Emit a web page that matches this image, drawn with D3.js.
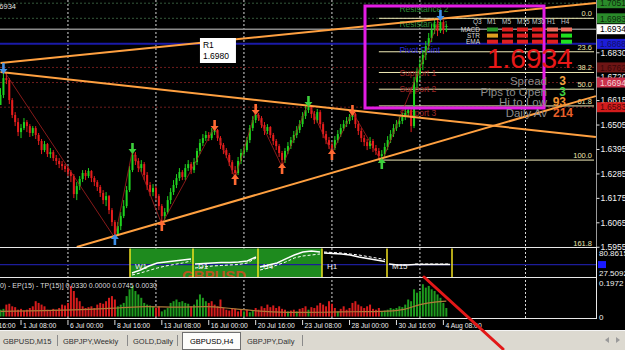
<!DOCTYPE html>
<html>
<head>
<meta charset="utf-8">
<title>GBPUSD,H4</title>
<script src="https://cdn.jsdelivr.net/npm/d3@7/dist/d3.min.js"></script>
<style>
  body { margin: 0; background: #000; overflow: hidden; }
  svg { display: block; font-family: "Liberation Sans", Arial, sans-serif; }
</style>
</head>
<body>
<svg id="chart" width="625" height="350"></svg>
<script>
"use strict";

// ---- price data, in pips above 1.0000 (6934 = 1.6934), one entry per H4 bar ----
const firstOpen = 6593;
const barClose = [
  6638,6714,6705,6615,6548,6516,6471,6489,6516,6498,
  6467,6489,6458,6431,6390,6417,6372,6381,6354,6341,
  6327,6318,6305,6291,6273,6192,6228,6260,6287,6273,
  6296,6264,6246,6224,6197,6165,6183,6120,6066,6012,
  6048,6093,6138,6210,6300,6368,6341,6309,6327,6278,
  6233,6201,6219,6183,6138,6093,6111,6165,6201,6233,
  6264,6291,6269,6309,6327,6300,6336,6386,6422,6444,
  6458,6444,6471,6480,6444,6413,6390,6368,6336,6300,
  6287,6341,6377,6390,6435,6489,6525,6548,6534,6503,
  6476,6494,6458,6431,6408,6377,6345,6386,6408,6435,
  6458,6480,6507,6543,6570,6584,6552,6525,6561,6507,
  6462,6435,6413,6399,6435,6462,6489,6507,6521,6539,
  6552,6507,6476,6444,6426,6408,6431,6399,6386,6363,
  6372,6404,6435,6462,6489,6507,6521,6539,6557,6570,
  6498,6696,6732,6777,6818,6858,6894,6930,6957,6926,
  6966,6930,6934];
const barHigh = [
  6669,6750,6741,6714,6624,6561,6534,6507,6534,6525,
  6507,6498,6498,6467,6440,6431,6422,6399,6390,6368,
  6354,6341,6327,6318,6300,6282,6246,6273,6300,6300,
  6309,6300,6273,6255,6233,6210,6201,6188,6129,6075,
  6066,6111,6165,6228,6318,6390,6381,6354,6345,6336,
  6291,6246,6237,6228,6192,6147,6129,6183,6219,6255,
  6282,6309,6300,6327,6345,6336,6354,6399,6440,6462,
  6476,6471,6489,6494,6485,6453,6422,6399,6377,6345,
  6318,6359,6395,6408,6449,6503,6543,6566,6557,6543,
  6516,6507,6498,6467,6440,6417,6386,6399,6426,6449,
  6476,6498,6525,6561,6588,6602,6593,6566,6575,6570,
  6516,6476,6449,6426,6453,6480,6507,6525,6539,6552,
  6561,6557,6521,6489,6458,6440,6449,6440,6413,6399,
  6390,6422,6453,6480,6507,6525,6539,6557,6575,6588,
  6579,6719,6759,6804,6840,6881,6917,6957,6984,6980,
  6989,6975,6957];
const barLow = [
  6593,6624,6687,6597,6534,6498,6453,6444,6480,6471,
  6449,6453,6440,6413,6372,6381,6359,6354,6341,6323,
  6309,6300,6291,6273,6246,6174,6165,6210,6246,6255,
  6264,6246,6228,6206,6179,6147,6138,6102,6048,5994,
  6003,6030,6084,6129,6201,6291,6323,6291,6291,6255,
  6210,6183,6183,6165,6120,6057,6075,6102,6147,6188,
  6219,6251,6255,6255,6296,6282,6287,6323,6372,6408,
  6431,6431,6435,6458,6431,6395,6372,6354,6318,6282,
  6264,6278,6327,6363,6381,6422,6476,6512,6521,6489,
  6458,6462,6444,6413,6390,6359,6314,6332,6372,6395,
  6422,6444,6467,6494,6530,6557,6534,6507,6512,6489,
  6444,6417,6395,6377,6390,6422,6449,6476,6494,6507,
  6525,6489,6458,6426,6408,6390,6395,6381,6368,6345,
  6336,6354,6390,6422,6449,6476,6494,6507,6525,6543,
  6471,6489,6669,6705,6750,6795,6840,6876,6912,6903,
  6917,6912,6921];

// zigzag swing points (alternating high / low) and their arrow colours
const zigzagBars = [1, 39, 45, 55, 73, 80, 87, 96, 105, 113, 120, 130, 150];
const zigzagColors = ["#4a90e0", "#3d8fe8", "#3ccf3c", "#ff6a33", "#ff6a33", "#ff6a33", "#ff6a33",
  "#ff6a33", "#3ccf3c", "#ff6a33", "#ff6a33", "#3ccf3c", "#3d8fe8"];

// trend lines as [bar, pips] end points
const trendUpper = [[0, 6782], [203, 7052]];
const trendFalling = [[0, 6741], [203, 6449]];
const trendRising = [[26, 5954], [203, 6633]];

// daily pivots
const pivotNames = ["Resistance 2", "Resistance 1", "Pivot Point", "Support 1", "Support 2", "Support 3"];
const pivotKinds = ["R", "R", "P", "S", "S", "S"];
const pivotPrices = [1.7051, 1.6983, 1.6868, 1.6762, 1.6694, 1.6583];
const bidPrice = 1.6934;

// fibonacci retracement
const fibLevels = [0, 23.6, 38.2, 50, 61.8, 100, 161.8];
const fibHigh = 1.6983;
const fibLow = 1.6345;
const fibStartBar = 129;

// price axis
const priceTicks = [1.6830, 1.6720, 1.6615, 1.6505, 1.6395, 1.6285, 1.6175, 1.6065, 1.5955];
const markerPrices = [1.7051, 1.6983, 1.6934, 1.6868, 1.6762, 1.6694, 1.6583];
const markerFills = ["#2a8a2a", "#2a8a2a", "#ffffff", "#1d1dd8", "#6e1515", "#c8304a", "#d41c1c"];
const markerInk = ["#0c2a0c", "#0c2a0c", "#000000", "#10106a", "#3a0808", "#f4d0d8", "#4a0808"];

// time axis
const timeLabels = ["26 Jun 16:00", "1 Jul 08:00", "6 Jul 00:00", "8 Jul 16:00", "13 Jul 08:00",
  "16 Jul 00:00", "20 Jul 16:00", "23 Jul 08:00", "28 Jul 00:00", "30 Jul 16:00", "4 Aug 08:00"];
const timeLabelBars = [-9, 7, 23, 39, 55, 71, 87, 103, 119, 135, 151];
const gridBars = [23, 53, 83, 113, 143, 179];

// lower histogram window
const histValues = [
  0.04,0.045,-0.07,-0.075,-0.06,-0.055,-0.04,-0.045,-0.035,-0.04,
  -0.05,-0.06,-0.09,-0.08,-0.07,-0.06,-0.04,-0.035,-0.045,-0.04,
  -0.05,-0.07,-0.065,-0.08,-0.18,-0.15,-0.11,-0.09,-0.06,-0.05,
  -0.055,-0.06,-0.05,-0.07,-0.08,-0.075,-0.09,-0.11,-0.12,-0.10,
  0.06,0.07,0.08,0.12,0.16,0.18,0.15,0.13,0.11,0.08,
  0.07,0.065,0.06,-0.05,-0.06,0.03,0.04,0.05,0.08,0.09,
  0.10,0.085,0.09,0.08,0.075,-0.06,0.07,0.10,0.13,0.11,
  0.09,-0.08,-0.09,-0.07,-0.06,-0.10,-0.05,-0.04,-0.035,-0.05,
  -0.045,-0.03,-0.04,0.03,-0.04,0.025,0.035,-0.05,-0.04,-0.06,
  -0.05,-0.07,-0.055,-0.065,-0.05,-0.06,-0.045,-0.04,0.03,-0.035,
  -0.04,0.03,-0.045,-0.05,-0.06,0.04,-0.055,-0.05,-0.065,-0.08,
  -0.07,-0.06,-0.09,-0.075,-0.05,0.03,-0.045,-0.06,-0.04,-0.05,
  -0.08,-0.09,-0.07,-0.06,-0.05,-0.06,-0.07,-0.045,-0.04,-0.05,
  0.03,0.035,0.04,0.05,0.045,0.05,0.06,0.055,0.07,0.10,
  0.09,0.16,0.14,0.15,0.19,0.17,0.18,0.16,0.15,0.13,
  0.11,0.08,0.05];
const maBars = [0, 15, 30, 40, 50, 60, 70, 80, 90, 100, 110, 120, 130, 137, 143, 148, 152];
const maValues = [0.03, 0.035, 0.042, 0.05, 0.058, 0.055, 0.058, 0.045, 0.03, 0.024, 0.025, 0.028, 0.03, 0.04, 0.07, 0.085, 0.09];
const histLegend = "(30) - EP(15) - TP(15)] 0.0330 0.0000 0.0745 0.0030";
const histTicks = [0.1972, 0];

// multi-timeframe window
const tfNames = ["W1", "D1", "H4", "H1", "M15"];
const tfFilled = [true, true, true, false, false];
const tfSolid = [
  [27.5, 35.5, 46.2, 54.2, 56.9, 59.5, 62.2, 64.9],
  [51.5, 52.9, 54.2, 55.5, 55.5, 56.9, 59.5, 70.2],
  [43.5, 48.9, 54.2, 64.9, 75.5, 83.5, 86.2, 83.5],
  [80.9, 79.5, 78.2, 75.5, 70.2, 66.2, 62.2, 58.2],
  [51.5, 48.9, 48.9, 50.2, 50.2, 50.2, 50.2, 50.2]];
const tfDashed = [
  [22.2, 27.5, 34.2, 40.8, 46.2, 50.2, 54.2, 59.5],
  [40.8, 43.5, 46.2, 47.5, 48.9, 50.2, 54.2, 67.5],
  [35.5, 40.8, 48.9, 56.9, 67.5, 72.9, 75.5, 78.2],
  [83.5, 82.2, 80.9, 78.2, 75.5, 71.5, 67.5, 63.5],
  [null, null, null, 51.5, 51.5, 51.5, 51.5, 51.5]];
const tfTicks = [80.8615, 27.5092];
const tfLevel = 50;

// signal table in the info box
const sigPeriods = ["M1", "M5", "M15", "M30", "H1", "H4"];
const sigRows = ["MACD", "STR", "EMA"];
const sigColors = [
  ["#2a9a2a", "#e02020", "#e02020", "#e02020", "#f07060", "#f07060"],
  ["#e0a020", "#e02020", "#e02020", "#e02020", "#e02020", "#20e020"],
  ["#e02020", "#e02020", "#e02020", "#e02020", "#e02020", "#20e020"]];
const infoLabels = ["Spread", "Pips to Open", "Hi to Low", "Daily Av"];
const infoValues = ["3", "3", "93", "214"];
const infoColors = ["#f0a040", "#40d040", "#f09030", "#e8602a"];

const tabs = ["GBPUSD,M15", "GBPJPY,Weekly", "GOLD,Daily", "GBPUSD,H4", "GBPJPY,Daily"];
const activeTab = 3;

// ---- layout ----
const width = 625;
const height = 350;
const plotRight = 596;
const mainBottom = 247;
const tfTop = 248, tfBottom = 277;
const histTop = 279, histBottom = 318;
const barStep = 2.933;
const tfBoxEdges = [130, 193, 258, 322, 387, 452];
const sigCols = [487, 502, 517, 532, 547, 561];
const tabX = [3, 63, 133, 190, 247];
const tabSeps = [57, 127, 177, 302];
const font = "'Liberation Sans', Arial, sans-serif";

const px = v => 1 + v / 10000;
const priceFmt = d3.format(".4f");

const x = d3.scaleLinear().domain([0, 1]).range([0.5, 0.5 + barStep]);
const yMain = d3.scaleLinear().domain([1.59539, 1.70654]).range([mainBottom, 0]);
const yTf = d3.scaleLinear().domain([27.5092, 80.8615]).range([273, 253]);
const yHist = d3.scaleLinear().domain([0, 0.1972]).range([316.5, 283]);

const svg = d3.select("svg#chart");
const defs = svg.append("defs");

function addClip(id, x0, y0, w, h) {
    defs.append("clipPath").attr("id", id)
        .append("rect").attr("x", x0).attr("y", y0).attr("width", w).attr("height", h);
}

function arrowPath(cx, tip, dir) {
    // dir "down": head at tip, shaft above; "up": head at tip, shaft below
    const s = dir === "down" ? -1 : 1;
    return `M${cx},${tip} L${cx - 4},${tip + 5 * s} L${cx - 1.3},${tip + 5 * s} L${cx - 1.3},${tip + 11 * s}` +
        ` L${cx + 1.3},${tip + 11 * s} L${cx + 1.3},${tip + 5 * s} L${cx + 4},${tip + 5 * s} Z`;
}

function drawBackground() {
    svg.append("rect").attr("width", width).attr("height", height).attr("fill", "#000");
    addClip("clipMain", 0, 0, plotRight, mainBottom);
    addClip("clipTf", 0, tfTop + 0.5, plotRight, tfBottom - tfTop - 0.5);
    addClip("clipHist", 0, histTop, plotRight, histBottom - histTop);
}

function drawGrid() {
    svg.append("g").selectAll("line").data(gridBars).join("line")
        .attr("x1", d => x(d)).attr("x2", d => x(d))
        .attr("y1", 0).attr("y2", histBottom)
        .attr("stroke", "#d8d8d8").attr("stroke-dasharray", "2,2").attr("stroke-width", 1);
}

function drawMain() {
    const g = svg.append("g").attr("clip-path", "url(#clipMain)");
    const levelStyle = {
        R: { stroke: "#34583a", dash: "2,2", w: 1, ink: "#2f8a35" },
        P: { stroke: "#1a1aa8", dash: null, w: 2, ink: "#2c2cd8" },
        S: { stroke: "#6e1c1c", dash: "2,2", w: 1, ink: "#a02828" }
    };

    // pivot levels
    g.selectAll("line.pivot").data(pivotPrices).join("line")
        .attr("class", "pivot")
        .attr("x1", 0).attr("x2", plotRight)
        .attr("y1", d => yMain(d)).attr("y2", d => yMain(d))
        .attr("stroke", (d, k) => levelStyle[pivotKinds[k]].stroke)
        .attr("stroke-width", (d, k) => levelStyle[pivotKinds[k]].w)
        .attr("stroke-dasharray", (d, k) => levelStyle[pivotKinds[k]].dash);

    // bid line
    g.append("line").attr("x1", 0).attr("x2", plotRight)
        .attr("y1", yMain(bidPrice)).attr("y2", yMain(bidPrice))
        .attr("stroke", "#8a8a8a").attr("stroke-width", 1.5);

    // fibonacci
    const fib = g.append("g");
    fib.selectAll("line").data(fibLevels).join("line")
        .attr("x1", x(fibStartBar)).attr("x2", plotRight - 2)
        .attr("y1", d => yMain(fibHigh - (fibHigh - fibLow) * d / 100))
        .attr("y2", d => yMain(fibHigh - (fibHigh - fibLow) * d / 100))
        .attr("stroke", "#f2ecb8").attr("stroke-width", 1);
    fib.selectAll("text").data(fibLevels).join("text")
        .attr("x", plotRight - 4)
        .attr("y", d => Math.min(yMain(fibHigh - (fibHigh - fibLow) * d / 100) - 2, mainBottom - 1))
        .attr("text-anchor", "end").attr("font-size", 7.5).attr("fill", "#ece6b0")
        .text(d => d.toFixed(1));

    // pivot names
    g.selectAll("text.pivot").data(pivotPrices).join("text")
        .attr("class", "pivot")
        .attr("x", x(136)).attr("y", d => yMain(d) + 9)
        .attr("font-size", 8.5)
        .attr("fill", (d, k) => levelStyle[pivotKinds[k]].ink)
        .text((d, k) => pivotNames[k]);

    // candles
    const bars = barClose.map((c, i) => ({
        i: i,
        o: px(i === 0 ? firstOpen : barClose[i - 1]),
        c: px(c), h: px(barHigh[i]), l: px(barLow[i])
    }));
    const color = d => d.c >= d.o ? "#1fd31f" : "#e51d1d";
    g.selectAll("line.wick").data(bars).join("line")
        .attr("class", "wick")
        .attr("x1", d => x(d.i)).attr("x2", d => x(d.i))
        .attr("y1", d => yMain(d.h)).attr("y2", d => yMain(d.l))
        .attr("stroke", color).attr("stroke-width", 1);
    g.selectAll("rect.body").data(bars).join("rect")
        .attr("class", "body")
        .attr("x", d => x(d.i) - 1).attr("width", 2)
        .attr("y", d => yMain(Math.max(d.o, d.c)))
        .attr("height", d => Math.max(1, Math.abs(yMain(d.o) - yMain(d.c))))
        .attr("fill", color);

    // zigzag
    const zz = zigzagBars.map((b, k) => ({ b: b, p: px(k % 2 === 0 ? barHigh[b] : barLow[b]), top: k % 2 === 0, col: zigzagColors[k] }));
    g.append("path").datum(zz)
        .attr("d", d3.line().x(d => x(d.b)).y(d => yMain(d.p)))
        .attr("fill", "none").attr("stroke", "#a82020").attr("stroke-width", 0.8);

    // trend lines
    const tl = d3.line().x(d => x(d[0])).y(d => yMain(px(d[1])));
    g.selectAll("path.trend").data([trendUpper, trendFalling, trendRising]).join("path")
        .attr("class", "trend").attr("d", tl)
        .attr("fill", "none").attr("stroke", "#ffa040").attr("stroke-width", 2);

    // swing arrows
    g.selectAll("path.arrow").data(zz).join("path")
        .attr("class", "arrow")
        .attr("d", d => d.top ? arrowPath(x(d.b), yMain(d.p) + 4, "down") : arrowPath(x(d.b), yMain(d.p) - 4, "up"))
        .attr("fill", d => d.col);

    // R1 label box
    const r1 = g.append("g").attr("transform", `translate(${x(68)},38)`);
    r1.append("rect").attr("width", 36).attr("height", 25).attr("fill", "#ffffff");
    r1.append("text").attr("x", 3).attr("y", 10).attr("font-size", 8.5).attr("fill", "#000").text("R1");
    r1.append("text").attr("x", 3).attr("y", 21).attr("font-size", 8.5).attr("fill", "#000").text(priceFmt(1.6980));

    // title remnant top-left
    g.append("text").attr("x", 16).attr("y", 9).attr("text-anchor", "end")
        .attr("font-size", 7.5).attr("fill", "#e0e0e0").text(priceFmt(bidPrice));
}

function drawInfoBox() {
    const g = svg.append("g");
    g.append("rect").attr("x", 365).attr("y", 6).attr("width", 179).attr("height", 102)
        .attr("fill", "none").attr("stroke", "#e41de4").attr("stroke-width", 3);

    g.append("text").attr("x", 473).attr("y", 24).attr("font-size", 6.5).attr("fill", "#c8c8c8").text("Q3");
    g.selectAll("text.per").data(sigPeriods).join("text")
        .attr("class", "per").attr("x", (d, k) => sigCols[k]).attr("y", 24)
        .attr("font-size", 6.5).attr("fill", "#c8c8c8").text(d => d);
    g.selectAll("text.row").data(sigRows).join("text")
        .attr("class", "row").attr("x", 480).attr("y", (d, k) => 31.8 + k * 6.1)
        .attr("text-anchor", "end").attr("font-size", 6.5).attr("fill", "#d8d8d8").text(d => d);
    sigColors.forEach((row, r) => {
        g.selectAll(`rect.sig${r}`).data(row).join("rect")
            .attr("class", `sig${r}`)
            .attr("x", (d, k) => sigCols[k]).attr("y", 27.5 + r * 6.1)
            .attr("width", 11).attr("height", 4).attr("fill", d => d);
    });

    g.append("text").attr("x", 487).attr("y", 68).attr("font-size", 28)
        .attr("fill", "#e81818").text(priceFmt(bidPrice));

    g.selectAll("text.info").data(infoLabels).join("text")
        .attr("class", "info").attr("x", 547).attr("y", (d, k) => 85 + k * 10.6)
        .attr("text-anchor", "end").attr("font-size", 11.5).attr("fill", "#8c8c8c").text(d => d);
    g.selectAll("text.val").data(infoValues).join("text")
        .attr("class", "val").attr("x", 566).attr("y", (d, k) => 85 + k * 10.6)
        .attr("text-anchor", "end").attr("font-size", 12).attr("font-weight", "bold")
        .attr("fill", (d, k) => infoColors[k]).text(d => d)
        .attr("dx", (d, k) => k === 3 ? 7 : 0);
}

function drawPriceAxis() {
    svg.append("line").attr("x1", plotRight + 0.5).attr("x2", plotRight + 0.5)
        .attr("y1", 0).attr("y2", mainBottom).attr("stroke", "#9a9a9a");
    const axis = d3.axisRight(yMain).tickValues(priceTicks).tickFormat(priceFmt).tickSize(3).tickPadding(1);
    const ax = svg.append("g").attr("transform", `translate(${plotRight + 0.5},0)`).call(axis);
    ax.select(".domain").remove();
    ax.attr("font-family", font).attr("font-size", 8.5);
    ax.selectAll("line").attr("stroke", "#e0e0e0");
    ax.selectAll("text").attr("fill", "#f4f4f4");

    const m = svg.append("g");
    m.selectAll("rect").data(markerPrices).join("rect")
        .attr("x", plotRight + 1).attr("y", d => yMain(d) - 5)
        .attr("width", width - plotRight - 1).attr("height", 10)
        .attr("fill", (d, k) => markerFills[k]);
    m.selectAll("text").data(markerPrices).join("text")
        .attr("x", plotRight + 4).attr("y", d => yMain(d) + 3.2)
        .attr("font-size", 8.5).attr("fill", (d, k) => markerInk[k]).text(d => priceFmt(d));
}

function drawTfPanel() {
    const g = svg.append("g").attr("clip-path", "url(#clipTf)");
    g.selectAll("rect.box").data(tfNames).join("rect")
        .attr("class", "box")
        .attr("x", (d, k) => tfBoxEdges[k]).attr("y", tfTop)
        .attr("width", (d, k) => tfBoxEdges[k + 1] - tfBoxEdges[k]).attr("height", tfBottom - tfTop)
        .attr("fill", (d, k) => tfFilled[k] ? "#1e8a1e" : "none");
    g.append("text").attr("x", 182).attr("y", 281).attr("font-size", 15).attr("font-weight", "bold")
        .attr("fill", "#c8501e").attr("opacity", 0.9).text("GBPUSD");
    g.append("line").attr("x1", 0).attr("x2", plotRight)
        .attr("y1", yTf(tfLevel)).attr("y2", yTf(tfLevel))
        .attr("stroke", "#1c1c9a").attr("stroke-width", 1.2);
    g.selectAll("line.sep").data(tfBoxEdges).join("line")
        .attr("class", "sep").attr("x1", d => d).attr("x2", d => d)
        .attr("y1", tfTop).attr("y2", tfBottom)
        .attr("stroke", "#f0e020").attr("stroke-width", 1.5);
    g.selectAll("text.tf").data(tfNames).join("text")
        .attr("class", "tf").attr("x", (d, k) => tfBoxEdges[k] + 5).attr("y", 268.5)
        .attr("font-size", 8).attr("fill", "#eeeeee").text(d => d);

    tfNames.forEach((name, k) => {
        const xs = d3.scaleLinear().domain([0, tfSolid[k].length - 1])
            .range([tfBoxEdges[k] + 2, tfBoxEdges[k + 1] - 2]);
        const ln = d3.line().defined(d => d != null).x((d, j) => xs(j)).y(d => yTf(d));
        g.append("path").datum(tfDashed[k]).attr("d", ln)
            .attr("fill", "none").attr("stroke", "#ffffff").attr("stroke-width", 1)
            .attr("stroke-dasharray", "3,2");
        g.append("path").datum(tfSolid[k]).attr("d", ln)
            .attr("fill", "none").attr("stroke", "#ffffff").attr("stroke-width", 1.4);
    });

    const lab = svg.append("g").attr("font-size", 8).attr("fill", "#f0f0f0");
    lab.selectAll("text").data(tfTicks).join("text")
        .attr("x", plotRight + 3).attr("y", d => yTf(d) + 3).text(d => d.toFixed(4));
    lab.append("rect").attr("x", plotRight + 2).attr("y", yTf(tfLevel) - 3.5)
        .attr("width", 8).attr("height", 7).attr("fill", "#1a1aff");
}

function drawHistPanel() {
    const g = svg.append("g").attr("clip-path", "url(#clipHist)");
    g.selectAll("rect").data(histValues).join("rect")
        .attr("x", (d, i) => x(i) - 1).attr("width", 2)
        .attr("y", d => yHist(Math.abs(d)))
        .attr("height", d => yHist(0) - yHist(Math.abs(d)))
        .attr("fill", d => d >= 0 ? "#1e9a1e" : "#d81c1c");
    g.append("path").datum(maBars.map((b, k) => [b, maValues[k]]))
        .attr("d", d3.line().curve(d3.curveMonotoneX).x(d => x(d[0])).y(d => yHist(d[1])))
        .attr("fill", "none").attr("stroke", "#b07a3a").attr("stroke-width", 1.2);
    g.append("text").attr("x", 157).attr("y", 288).attr("text-anchor", "end")
        .attr("font-size", 7).attr("fill", "#dddddd").text(histLegend);

    svg.append("g").selectAll("text").data(histTicks).join("text")
        .attr("x", plotRight + 3).attr("y", d => yHist(d) + 3)
        .attr("font-size", 8).attr("fill", "#f0f0f0").text(d => d === 0 ? "0" : d.toFixed(4));
}

function drawFrames() {
    const f = svg.append("g").attr("stroke", "#e8e8e8").attr("stroke-width", 1);
    [mainBottom + 0.5, tfBottom + 0.5, histBottom + 0.5].forEach(yy => {
        f.append("line").attr("x1", 0).attr("x2", plotRight + 1).attr("y1", yy).attr("y2", yy);
    });
    f.append("line").attr("x1", plotRight + 0.5).attr("x2", plotRight + 0.5)
        .attr("y1", mainBottom).attr("y2", histBottom + 1);
}

function drawTimeAxis() {
    const g = svg.append("g");
    g.selectAll("line").data(timeLabelBars).join("line")
        .attr("x1", d => x(d)).attr("x2", d => x(d))
        .attr("y1", 320).attr("y2", 325).attr("stroke", "#e0e0e0");
    g.selectAll("text").data(timeLabels).join("text")
        .attr("x", (d, k) => x(timeLabelBars[k]) + 2).attr("y", 327.5)
        .attr("font-size", 6.8).attr("fill", "#eeeeee").text(d => d);
}

function drawTabs() {
    const g = svg.append("g");
    g.append("rect").attr("x", 0).attr("y", 330).attr("width", width).attr("height", 20).attr("fill", "#dcd9d0");
    g.append("line").attr("x1", 0).attr("x2", width).attr("y1", 330.5).attr("y2", 330.5).attr("stroke", "#f4f4f4");
    g.append("rect").attr("x", 182.5).attr("y", 332.5).attr("width", 58).attr("height", 17)
        .attr("fill", "#fdfdfb").attr("stroke", "#707070");
    g.selectAll("line.sep").data(tabSeps).join("line")
        .attr("class", "sep").attr("x1", d => d + 0.5).attr("x2", d => d + 0.5)
        .attr("y1", 335).attr("y2", 346).attr("stroke", "#8a8a8a");
    g.selectAll("text").data(tabs).join("text")
        .attr("x", (d, k) => tabX[k]).attr("y", 343.5)
        .attr("font-size", 7.5).attr("fill", (d, k) => k === activeTab ? "#000" : "#303030").text(d => d);
    g.append("path").attr("d", "M605,340 L609,337 L609,343 Z").attr("fill", "#9a9a9a");
    g.append("path").attr("d", "M620,340 L616,337 L616,343 Z").attr("fill", "#9a9a9a");
}

function drawAnnotation() {
    svg.append("line").attr("x1", x(144.4)).attr("y1", tfBottom)
        .attr("x2", 503).attr("y2", 349)
        .attr("stroke", "#e21818").attr("stroke-width", 3).attr("stroke-linecap", "round");
}

drawBackground();
drawGrid();
drawMain();
drawInfoBox();
drawPriceAxis();
drawTfPanel();
drawHistPanel();
drawFrames();
drawTimeAxis();
drawTabs();
drawAnnotation();
</script>
</body>
</html>
